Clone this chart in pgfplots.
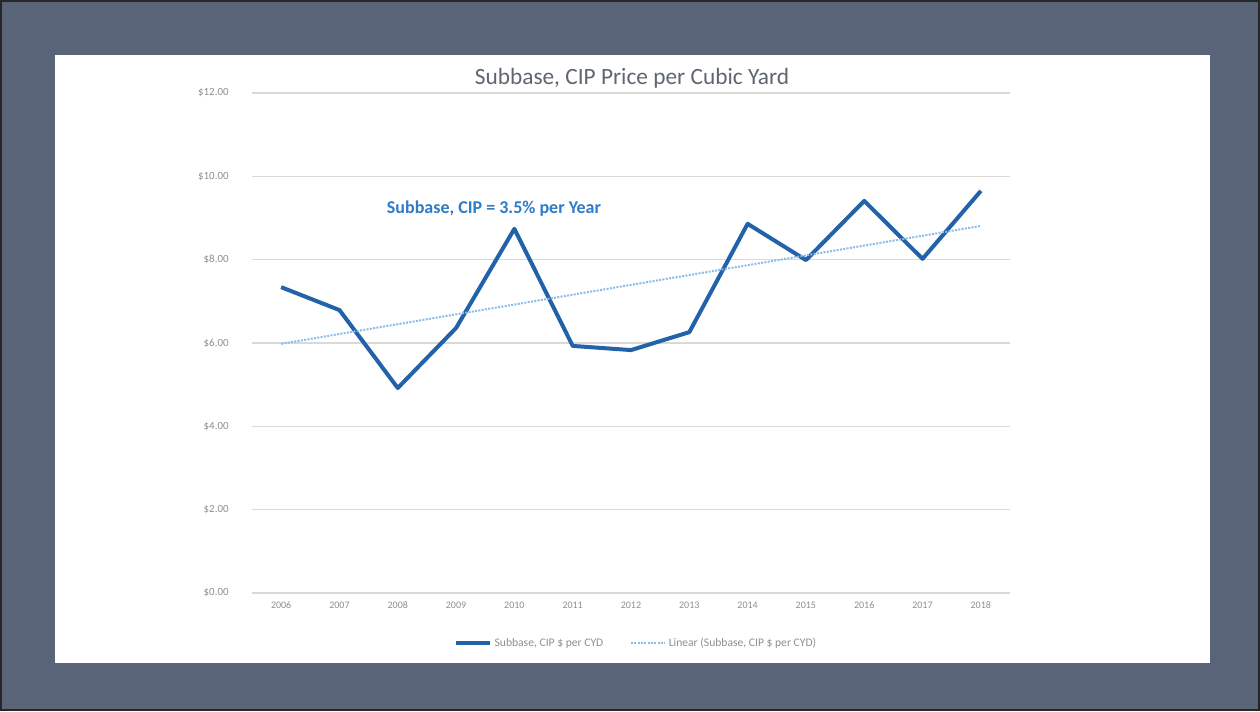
\documentclass[border=0pt]{standalone}
\usepackage{fontspec}
\setmainfont{Carlito}
\usepackage{pgfplots}
\pgfplotsset{compat=1.18}
\definecolor{framecol}{HTML}{5A6479}
\definecolor{mainblue}{HTML}{2262A8}
\definecolor{trendblue}{HTML}{8DBBE8}
\definecolor{annblue}{HTML}{2F7BC8}
\definecolor{titlegray}{HTML}{5F6670}
\definecolor{tickgray}{HTML}{8F8F8F}
\definecolor{gridgray}{HTML}{D9D9D9}

\begin{document}
\begin{tikzpicture}
% scanned frame, 1px = 0.75pt
\fill[framecol] (0,0) rectangle (945pt,533.25pt);
\draw[black!85, line width=1.5pt] (0.75pt,0.75pt) rectangle (944.25pt,532.5pt);
\fill[white] (41.25pt,36pt) rectangle (907.5pt,492pt);
\node[titlegray, font=\fontsize{17.5}{20}\selectfont] at (474pt,474.75pt)
  {Subbase, CIP Price per Cubic Yard};
\begin{axis}[
  at={(189pt,88.5pt)}, anchor=south west,
  scale only axis, width=568.5pt, height=375pt,
  xmin=2005.5, xmax=2018.5, ymin=0, ymax=12,
  xtick={2006,...,2018}, ytick={0,2,...,12},
  axis line style={draw=none}, major tick length=0pt,
  ymajorgrids, grid style={gridgray, line width=0.8pt},
  /pgf/number format/assume math mode=true,
  x tick label style={/pgf/number format/1000 sep={}, font=\fontsize{7.5}{9}\selectfont, text=tickgray, yshift=-3pt},
  yticklabel={\$\pgfmathprintnumber[fixed,fixed zerofill,precision=2]{\tick}},
  y tick label style={font=\fontsize{8.2}{9}\selectfont, text=tickgray, xshift=-14pt},
  legend columns=2,
  legend style={draw=none, fill=none, at={(0.507,-0.1)}, anchor=center,
    font=\fontsize{8.7}{10}\selectfont, text=tickgray},
  /tikz/every even column/.append style={column sep=18pt},
  legend image code/.code={\draw[#1] (0cm,0cm) -- (0.9cm,0cm);},
]
\addplot[mainblue, line width=3pt, line join=round] coordinates {
  (2006,7.34) (2007,6.79) (2008,4.92) (2009,6.36) (2010,8.74)
  (2011,5.93) (2012,5.83) (2013,6.26) (2014,8.86) (2015,7.99)
  (2016,9.41) (2017,8.02) (2018,9.65)
};
\addlegendentry{Subbase, CIP \$ per CYD}
\addplot[trendblue, line width=1.5pt, densely dotted] coordinates {
  (2006,5.98) (2018,8.81)
};
\addlegendentry{Linear (Subbase, CIP \$ per CYD)}
\node[annblue, font=\fontsize{13.5}{16}\selectfont\bfseries] at (axis cs:2009.65,9.22)
  {Subbase, CIP = 3.5\% per Year};
\end{axis}
\end{tikzpicture}
\end{document}
